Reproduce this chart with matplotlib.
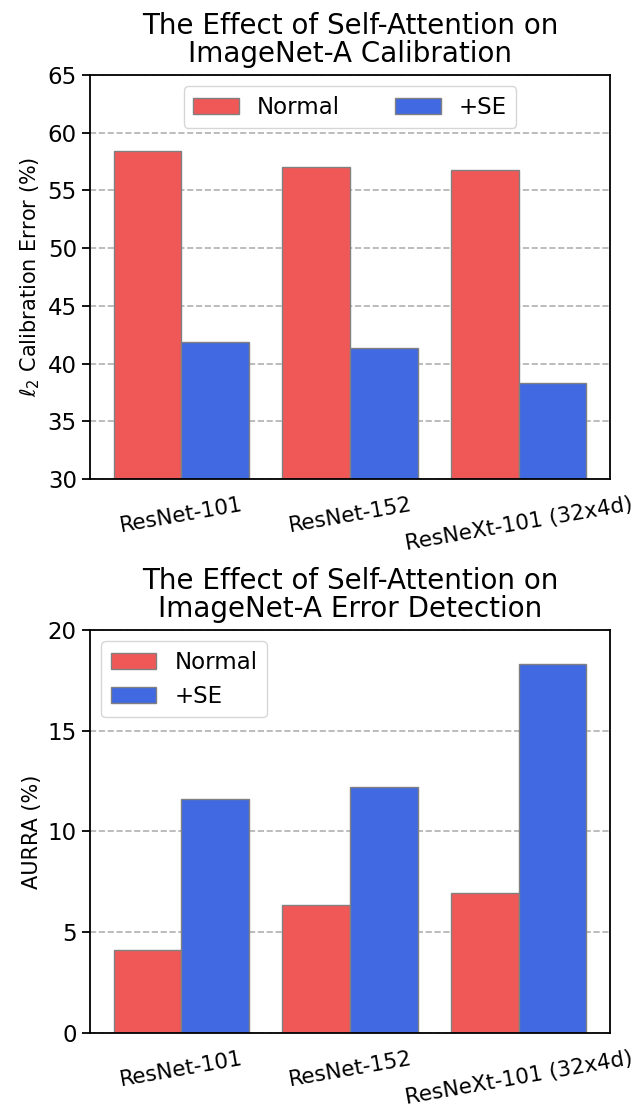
import matplotlib
matplotlib.use('Agg')
import matplotlib.pyplot as plt
import numpy as np

models = ['ResNet-101', 'ResNet-152', 'ResNeXt-101 (32x4d)']
calib_normal = [58.4, 57.0, 56.8]
calib_se = [41.9, 41.35, 38.35]
aurra_normal = [4.13, 6.35, 6.97]
aurra_se = [11.6, 12.21, 18.33]

red = '#F05858'
blue = '#4169E1'

fig = plt.figure(figsize=(6.44, 11.12), dpi=100)
ax1 = fig.add_axes([0.1398, 0.5692, 0.8074, 0.3634])
ax2 = fig.add_axes([0.1398, 0.0710, 0.8074, 0.3625])

x = np.arange(len(models))
w = 0.4

def draw(ax, normal, se):
	ax.bar(x - w/2, normal, width=w, color=red, edgecolor='gray', linewidth=1, label='Normal')
	ax.bar(x + w/2, se, width=w, color=blue, edgecolor='gray', linewidth=1, label='+SE')
	ax.set_axisbelow(True)
	ax.yaxis.grid(True, linestyle='--', color='#b0b0b0', linewidth=1.2)
	ax.set_xticks(x)
	ax.set_xticklabels(models, rotation=10, ha='center', fontsize=15.5)
	ax.tick_params(axis='y', labelsize=16.5, length=6, width=1.3)
	ax.tick_params(axis='x', length=0, pad=11)
	for s in ax.spines.values():
		s.set_linewidth(1.3)

draw(ax1, calib_normal, calib_se)
ax1.set_ylim(30, 65)
ax1.set_yticks([30, 35, 40, 45, 50, 55, 60, 65])
ax1.set_ylabel(r'$\ell_2$ Calibration Error (%)', fontsize=15)
ax1.set_title('The Effect of Self-Attention on\nImageNet-A Calibration', fontsize=20, linespacing=1.0, pad=9)
ax1.legend(loc='upper center', ncol=2, fontsize=16.5, columnspacing=2.4)

draw(ax2, aurra_normal, aurra_se)
ax2.set_ylim(0, 20)
ax2.set_yticks([0, 5, 10, 15, 20])
ax2.set_ylabel('AURRA (%)', fontsize=15)
ax2.set_title('The Effect of Self-Attention on\nImageNet-A Error Detection', fontsize=20, linespacing=1.0, pad=9)
ax2.legend(loc='upper left', fontsize=16.5)

plt.savefig('out.png', dpi=100)
